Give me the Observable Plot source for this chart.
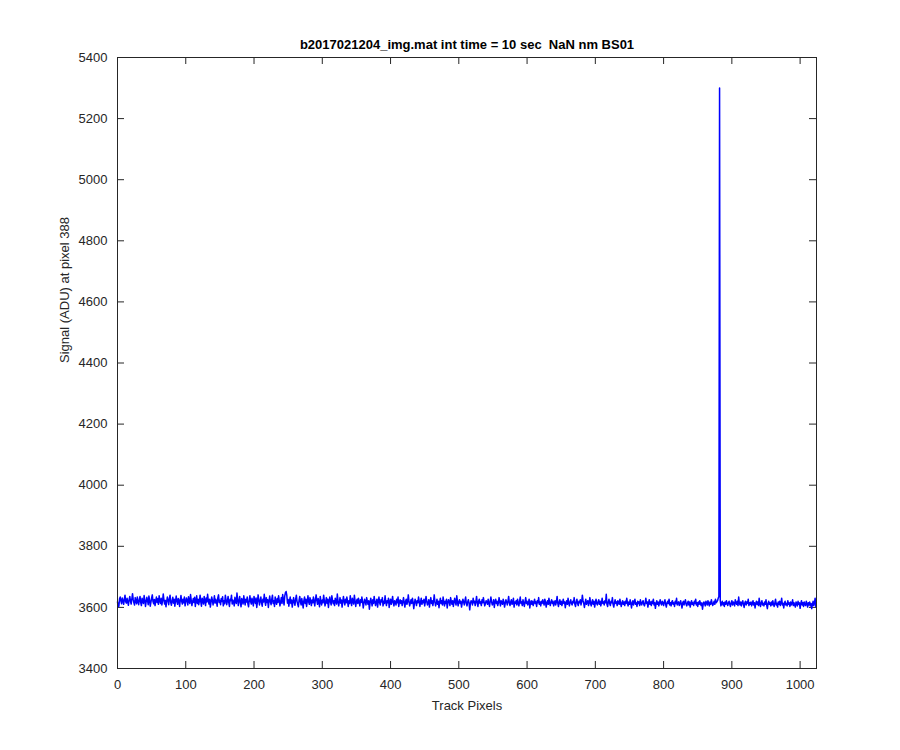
<!DOCTYPE html>
<html>
<head>
<meta charset="utf-8">
<script src="https://cdn.jsdelivr.net/npm/d3@7"></script>
<script src="https://cdn.jsdelivr.net/npm/@observablehq/plot@0.6"></script>
<style>
  html, body { margin: 0; padding: 0; background: #ffffff; }
  #chart { width: 900px; height: 750px; }
</style>
</head>
<body>
<div id="chart"></div>
<script>
const titleText = "b2017021204_img.mat int time = 10 sec \u00a0NaN nm BS01";
const xLabel = "Track Pixels";
const yLabel = "Signal (ADU) at pixel 388";
const xTicks = [0, 100, 200, 300, 400, 500, 600, 700, 800, 900, 1000];
const yTicks = [3400, 3600, 3800, 4000, 4200, 4400, 4600, 4800, 5000, 5200, 5400];

// Signal per track pixel (0..1023)
const signal = [
3618,3602,3604,3628,3634,3621,3612,3631,3623,3610,3626,3640,3619,3614,3630,3617,3607,3625,3636,3621,3611,3627,3645,3626,3615,3608,3632,3620,3612,3634,3619,3609,
3625,3636,3616,3606,3630,3621,3613,3639,3624,3603,3619,3633,3622,3609,3637,3624,3604,3617,3631,3641,3619,3612,3626,3606,3621,3634,3616,3628,3610,3638,3622,3613,
3630,3608,3621,3644,3625,3611,3623,3602,3619,3634,3624,3609,3628,3640,3616,3607,3622,3633,3614,3627,3604,3621,3637,3619,3610,3629,3623,3603,3625,3639,3620,3611,
3627,3615,3634,3605,3619,3631,3622,3608,3635,3620,3613,3642,3624,3606,3619,3629,3616,3633,3603,3622,3638,3613,3627,3609,3621,3640,3618,3604,3630,3622,3611,3636,
3621,3606,3631,3618,3643,3623,3611,3627,3601,3616,3634,3624,3608,3621,3638,3614,3627,3619,3604,3632,3641,3616,3623,3609,3629,3619,3635,3605,3622,3612,3640,3624,
3609,3621,3636,3616,3603,3627,3622,3640,3611,3624,3619,3605,3633,3621,3613,3647,3626,3606,3622,3636,3616,3602,3629,3621,3611,3638,3622,3608,3627,3618,3634,3612,
3602,3624,3638,3619,3611,3630,3620,3605,3636,3622,3613,3631,3600,3619,3641,3624,3608,3622,3634,3615,3604,3627,3618,3643,3620,3607,3632,3616,3625,3600,3621,3637,
3618,3609,3627,3640,3613,3622,3603,3634,3620,3610,3629,3616,3638,3622,3605,3619,3632,3613,3642,3624,3608,3637,3648,3652,3640,3614,3626,3604,3621,3634,3613,3624,
3601,3619,3632,3616,3607,3627,3640,3620,3610,3602,3624,3636,3618,3608,3629,3615,3598,3622,3634,3613,3627,3603,3620,3638,3618,3610,3632,3622,3606,3624,3615,3634,
3619,3605,3627,3641,3622,3610,3629,3619,3602,3636,3620,3608,3624,3615,3640,3622,3605,3619,3632,3613,3627,3600,3620,3634,3618,3608,3638,3624,3612,3622,3606,3630,
3620,3611,3644,3622,3605,3618,3632,3614,3624,3601,3620,3636,3618,3608,3627,3615,3634,3620,3603,3622,3613,3638,3618,3606,3630,3620,3611,3640,3622,3603,3619,3627,
3613,3630,3618,3605,3625,3616,3634,3620,3598,3613,3627,3618,3608,3632,3620,3610,3622,3594,3615,3630,3618,3605,3625,3613,3636,3620,3606,3618,3627,3601,3620,3634,
3615,3608,3625,3618,3632,3605,3620,3613,3638,3618,3606,3622,3615,3630,3600,3618,3627,3610,3620,3636,3615,3605,3622,3618,3608,3627,3615,3634,3603,3618,3625,3613,
3622,3606,3618,3632,3615,3601,3620,3627,3610,3618,3641,3620,3605,3615,3625,3613,3630,3618,3596,3613,3627,3618,3606,3622,3615,3634,3620,3603,3618,3630,3610,3622,
3615,3627,3605,3618,3636,3620,3608,3615,3625,3601,3618,3632,3613,3622,3606,3620,3641,3618,3605,3615,3627,3610,3620,3599,3618,3630,3613,3622,3608,3634,3618,3605,
3620,3613,3627,3598,3615,3625,3618,3606,3632,3620,3610,3622,3603,3618,3630,3615,3608,3638,3620,3605,3618,3625,3613,3620,3601,3615,3627,3618,3608,3622,3634,3613,
3605,3618,3625,3615,3592,3613,3622,3618,3608,3630,3615,3620,3606,3618,3636,3615,3603,3620,3627,3613,3618,3606,3625,3615,3632,3618,3605,3613,3622,3618,3610,3627,
3615,3603,3620,3634,3618,3608,3615,3625,3600,3618,3627,3613,3620,3606,3615,3632,3618,3605,3622,3615,3610,3627,3618,3601,3613,3625,3618,3608,3620,3636,3615,3606,
3618,3625,3610,3615,3630,3601,3618,3613,3622,3608,3627,3615,3605,3620,3634,3613,3618,3606,3625,3615,3603,3618,3632,3613,3620,3608,3615,3627,3598,3615,3622,3610,
3620,3606,3615,3627,3613,3618,3603,3622,3615,3632,3610,3618,3605,3620,3613,3625,3615,3608,3627,3618,3601,3615,3622,3610,3630,3615,3606,3618,3625,3613,3620,3605,
3615,3622,3608,3618,3636,3613,3603,3618,3625,3610,3620,3606,3615,3627,3613,3618,3599,3615,3622,3610,3630,3615,3605,3618,3625,3613,3608,3620,3615,3632,3610,3603,
3618,3627,3613,3606,3620,3615,3625,3608,3618,3640,3622,3613,3600,3615,3627,3610,3618,3622,3606,3615,3632,3613,3605,3618,3625,3610,3620,3601,3615,3627,3613,3608,
3618,3625,3610,3620,3605,3615,3630,3613,3618,3608,3622,3615,3643,3610,3603,3618,3627,3613,3606,3620,3615,3632,3610,3601,3615,3625,3613,3618,3606,3622,3615,3610,
3627,3613,3603,3615,3622,3610,3618,3606,3620,3613,3630,3615,3605,3618,3610,3625,3613,3598,3615,3622,3608,3618,3627,3610,3615,3603,3620,3613,3618,3606,3625,3613,
3608,3618,3622,3610,3605,3615,3630,3613,3618,3601,3615,3625,3610,3618,3606,3620,3613,3627,3608,3615,3597,3613,3622,3610,3618,3605,3615,3625,3613,3608,3620,3615,
3606,3618,3625,3610,3601,3615,3620,3613,3627,3608,3615,3605,3618,3622,3610,3615,3603,3620,3613,3630,3608,3615,3618,3606,3613,3622,3610,3598,3615,3620,3608,3618,
3625,3610,3605,3615,3620,3608,3618,3601,3613,3622,3610,3615,3606,3620,3613,3627,3608,3615,3603,3618,3610,3622,3613,3606,3615,3594,3610,3618,3613,3605,3620,3615,
3608,3622,3613,3605,3618,3610,3625,3615,3606,3613,3620,3610,3627,3615,3618,3622,3630,3636,5300,3622,3605,3613,3620,3608,3615,3603,3618,3610,3622,3613,3606,3615,
3620,3610,3603,3615,3622,3608,3618,3613,3605,3625,3615,3610,3620,3606,3634,3613,3608,3618,3605,3615,3622,3610,3600,3615,3620,3608,3618,3613,3627,3606,3615,3610,
3618,3605,3613,3622,3608,3615,3598,3613,3620,3610,3618,3606,3630,3613,3603,3615,3622,3608,3613,3605,3618,3610,3625,3608,3596,3613,3620,3610,3615,3605,3618,3608,
3622,3610,3603,3615,3627,3608,3613,3601,3618,3610,3620,3606,3615,3630,3608,3613,3598,3615,3620,3608,3613,3605,3622,3610,3615,3603,3618,3608,3613,3625,3606,3615,
3608,3601,3618,3613,3605,3620,3610,3615,3597,3613,3622,3608,3615,3603,3618,3610,3606,3620,3613,3601,3615,3608,3618,3605,3613,3596,3610,3620,3606,3615,3630,3602
];

const data = signal.map((v, i) => ({pixel: i, value: v}));

const axisColor = "#262626";
const W = 900, H = 750;
const mL = 117, mR = 84, mT = 57, mB = 82;
const innerW = W - mL - mR, innerH = H - mT - mB;
const tick = 7;
const fmt = d3.format("d");

const chart = Plot.plot({
  width: W,
  height: H,
  marginLeft: mL,
  marginRight: mR,
  marginTop: mT,
  marginBottom: mB,
  style: {fontFamily: "'Liberation Sans', Arial, Helvetica, sans-serif", fontSize: "13px", color: axisColor, background: "#ffffff"},
  x: {domain: [0, 1024]},
  y: {domain: [3400, 5400]},
  marks: [
    Plot.axisX({ticks: xTicks, tickFormat: fmt, tickSize: 0, tickPadding: 11, label: null, fontSize: 13, color: axisColor}),
    Plot.axisY({ticks: yTicks, tickFormat: fmt, tickSize: 0, tickPadding: 10, label: null, fontSize: 13, color: axisColor}),
    // inward ticks on all four sides
    Plot.tickX(xTicks, {x: d => d, insetTop: innerH - tick, stroke: axisColor}),
    Plot.tickX(xTicks, {x: d => d, insetBottom: innerH - tick, stroke: axisColor}),
    Plot.tickY(yTicks, {y: d => d, insetLeft: innerW - tick, stroke: axisColor}),
    Plot.tickY(yTicks, {y: d => d, insetRight: innerW - tick, stroke: axisColor}),
    Plot.line(data, {x: "pixel", y: "value", stroke: "#0000ff", strokeWidth: 1.5}),
    Plot.frame({stroke: axisColor, strokeWidth: 1}),
    Plot.text([titleText], {text: d => d, frameAnchor: "top", dy: -13, lineAnchor: "middle", fontWeight: "bold", fontSize: 13, fill: "#000000"}),
    Plot.text([xLabel], {text: d => d, frameAnchor: "bottom", dy: 37, lineAnchor: "middle", fontSize: 13, fill: axisColor}),
    Plot.text([yLabel], {text: d => d, frameAnchor: "left", dx: -53, rotate: -90, lineAnchor: "middle", fontSize: 13, fill: axisColor})
  ]
});
document.getElementById("chart").appendChild(chart);
</script>
</body>
</html>
